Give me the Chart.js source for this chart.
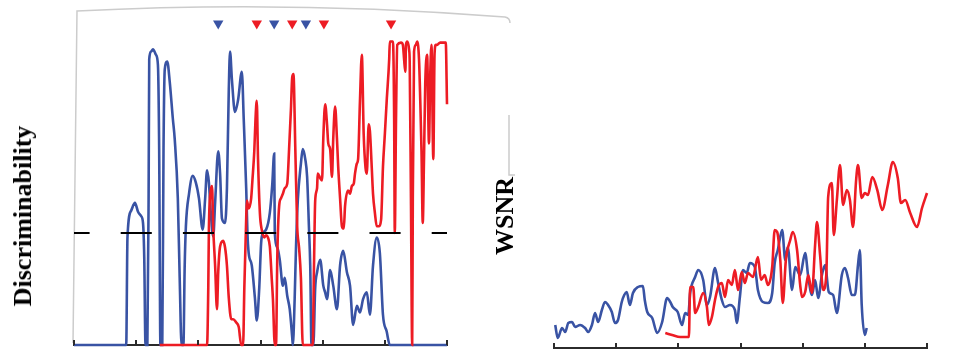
<!DOCTYPE html>
<html>
<head>
<meta charset="utf-8">
<script src="https://cdn.jsdelivr.net/npm/chart.js@4.4.1/dist/chart.umd.min.js"></script>
<style>
  html, body { margin: 0; padding: 0; background: #fff; }
  #wrap { position: relative; width: 979px; height: 351px; overflow: hidden; }
  .box { position: absolute; top: 0; height: 351px; }
  #leftBox { left: 0; width: 520px; }
  #rightBox { left: 530px; width: 449px; }
  .ylab {
    position: absolute;
    font-family: "Liberation Serif", "Times New Roman", serif;
    font-weight: bold;
    font-size: 26px;
    color: #000;
    white-space: nowrap;
    transform: translate(-50%, -50%) rotate(-90deg);
  }
</style>
</head>
<body>
<div id="wrap">
  <div class="box" id="leftBox"><canvas id="discChart"></canvas></div>
  <div class="box" id="rightBox"><canvas id="wsnrChart"></canvas></div>
  <div class="ylab" style="left:23px; top:216px;">Discriminability</div>
  <div class="ylab" style="left:505px; top:216px;">WSNR</div>
</div>
<script>
// left panel: discriminability over time (x 0..6), threshold = 1
const discBlue = [[0,0],[0.84,0],[0.86,0.96],[0.92,1.20],[0.98,1.27],[1.03,1.19],[1.08,1.15],[1.11,1.09],[1.13,0.78],[1.15,0],
  [1.18,0],[1.20,1.31],[1.21,2.55],[1.24,2.62],[1.27,2.64],[1.32,2.59],[1.35,2.50],[1.37,1.75],[1.39,0],[1.42,0],
  [1.44,1.75],[1.46,2.46],[1.50,2.53],[1.54,2.35],[1.59,2.02],[1.62,1.84],[1.67,1.31],[1.70,0.60],[1.73,0],[1.76,0],
  [1.78,0.69],[1.80,1.06],[1.85,1.35],[1.91,1.51],[1.96,1.45],[2.01,1.31],[2.07,1.03],[2.11,1.31],[2.14,1.56],[2.17,1.45],
  [2.20,1.18],[2.24,0.97],[2.27,1.27],[2.32,1.73],[2.35,1.53],[2.38,1.13],[2.43,1.09],[2.46,1.40],[2.49,2.28],[2.51,2.62],
  [2.54,2.37],[2.59,2.08],[2.64,2.19],[2.70,2.44],[2.73,2.02],[2.77,1.40],[2.79,1.00],[2.81,0.82],[2.86,0.71],[2.91,0.42],
  [2.94,0.22],[2.98,0.51],[3.01,0.91],[3.04,1.00],[3.09,1.03],[3.15,1.18],[3.19,1.44],[3.22,1.71],[3.23,1.00],[3.27,0.87],
  [3.31,0.76],[3.36,0.53],[3.39,0.60],[3.43,0.44],[3.47,0.32],[3.51,0.07],[3.52,0],[3.55,0.42],[3.57,0.85],[3.60,1.29],
  [3.65,1.62],[3.68,1.75],[3.72,1.66],[3.75,1.50],[3.78,1.04],[3.80,0.71],[3.82,0],[3.85,0],[3.88,0.51],[3.91,0.65],
  [3.96,0.76],[4.01,0.53],[4.04,0.47],[4.07,0.41],[4.12,0.67],[4.17,0.53],[4.23,0.32],[4.28,0.71],[4.33,0.84],[4.39,0.65],
  [4.44,0.53],[4.49,0.18],[4.55,0.35],[4.60,0.29],[4.65,0.41],[4.71,0.47],[4.76,0.27],[4.81,0.71],[4.87,0.96],[4.92,0.82],
  [4.97,0.27],[5.03,0.12],[5.08,0],[6.0,0]]

const discRed = [[1.38,0],[2.14,0],[2.16,0.51],[2.17,1.04],[2.20,1.38],[2.22,1.42],[2.24,1.04],[2.27,0.71],[2.30,0.32],[2.32,0.65],
  [2.35,0.88],[2.40,0.93],[2.43,0.87],[2.46,0.71],[2.49,0.42],[2.53,0.23],[2.56,0.23],[2.61,0.20],[2.65,0.16],[2.69,0],
  [2.72,0],[2.74,0.51],[2.77,1.13],[2.78,1.29],[2.81,1.22],[2.85,1.31],[2.87,1.47],[2.90,1.73],[2.92,2.02],[2.94,2.18],
  [2.96,1.66],[2.99,1.18],[3.02,1.03],[3.06,0.96],[3.09,0.98],[3.12,0.96],[3.15,0.88],[3.18,0.60],[3.20,0.41],[3.23,0],
  [3.25,0],[3.27,0.78],[3.30,1.24],[3.33,1.31],[3.36,1.35],[3.39,1.40],[3.43,1.44],[3.46,1.75],[3.49,2.11],[3.51,2.39],
  [3.53,2.42],[3.56,1.75],[3.59,1.06],[3.62,0.87],[3.65,0.60],[3.68,0],[3.84,0],[3.86,0.69],[3.88,1.29],[3.91,1.40],
  [3.92,1.53],[3.96,1.49],[3.99,1.47],[4.01,1.84],[4.04,2.15],[4.07,1.97],[4.09,1.80],[4.12,1.75],[4.15,1.50],[4.17,1.84],
  [4.20,2.13],[4.23,1.84],[4.25,1.59],[4.28,1.31],[4.31,1.06],[4.34,1.04],[4.36,1.24],[4.41,1.38],[4.44,1.35],[4.47,1.42],
  [4.50,1.44],[4.52,1.53],[4.55,1.62],[4.57,1.66],[4.60,2.18],[4.63,2.59],[4.66,1.88],[4.69,1.58],[4.71,1.53],[4.74,1.97],
  [4.76,1.91],[4.79,1.58],[4.81,1.35],[4.84,1.18],[4.87,1.06],[4.90,1.06],[4.94,1.12],[4.97,1.59],[5.00,1.88],[5.03,2.18],
  [5.07,2.55],[5.08,2.71],[5.13,2.71],[5.15,2.02],[5.16,1.00],[5.18,2.02],[5.20,2.68],[5.26,2.70],[5.29,2.68],[5.31,2.55],
  [5.33,2.44],[5.34,2.68],[5.36,2.71],[5.39,2.64],[5.40,2.53],[5.42,1.31],[5.44,0],[5.45,1.31],[5.47,2.62],[5.50,2.68],
  [5.52,2.71],[5.55,2.55],[5.57,2.18],[5.59,1.73],[5.61,1.09],[5.63,1.66],[5.65,2.33],[5.68,2.59],[5.71,1.80],[5.73,2.40],
  [5.75,2.68],[5.78,1.66],[5.80,2.60],[5.82,2.68],[5.84,2.68],[5.89,2.70],[5.98,2.70],[6.0,2.15]]

const threshold = 1
const markerLevel = 2.87
const blueMarkers = [2.32, 3.22, 3.73]
const redMarkers = [2.94, 3.51, 4.02, 5.10]

// right panel: WSNR over time
const wsnrBlue = [[0.02,2.3],[0.06,1.0],[0.13,2.0],[0.18,1.6],[0.23,2.5],[0.29,2.6],[0.34,2.1],[0.42,2.3],[0.50,2.0],[0.55,1.6],
  [0.61,2.3],[0.66,3.5],[0.71,2.6],[0.77,3.8],[0.82,4.6],[0.87,4.3],[0.93,3.6],[0.98,2.5],[1.03,2.8],[1.09,4.6],
  [1.13,5.3],[1.17,5.6],[1.22,4.3],[1.27,5.5],[1.35,6.1],[1.43,6.2],[1.46,4.8],[1.50,3.6],[1.58,3.0],[1.66,1.5],
  [1.74,2.6],[1.82,5.0],[1.87,4.6],[1.91,4.1],[1.99,3.6],[2.06,2.3],[2.11,3.5],[2.16,3.3],[2.19,5.5],[2.27,7.1],
  [2.32,7.8],[2.40,6.8],[2.46,4.3],[2.51,5.1],[2.59,8.0],[2.64,6.5],[2.70,4.8],[2.75,4.1],[2.83,4.3],[2.91,3.8],
  [2.94,2.5],[2.99,5.1],[3.04,7.8],[3.10,7.5],[3.15,8.5],[3.23,8.1],[3.28,5.8],[3.36,4.6],[3.44,4.5],[3.51,5.5],
  [3.55,8.5],[3.60,9.8],[3.67,11.8],[3.72,8.8],[3.76,10.1],[3.83,5.8],[3.88,8.1],[3.96,7.3],[4.04,9.5],[4.09,7.1],
  [4.15,5.3],[4.20,6.8],[4.25,5.0],[4.31,7.3],[4.36,8.3],[4.42,5.6],[4.49,5.3],[4.55,3.5],[4.63,7.3],[4.68,8.0],
  [4.73,7.0],[4.79,5.3],[4.84,5.3],[4.89,8.3],[4.92,9.8],[4.95,4.3],[5.00,1.3],[5.03,2.0]]

const wsnrRed = [[1.79,1.5],[1.90,1.3],[2.03,1.1],[2.17,1.1],[2.19,6.1],[2.24,6.1],[2.27,3.5],[2.32,4.1],[2.40,5.5],[2.46,4.1],
  [2.49,2.3],[2.54,3.1],[2.59,4.8],[2.64,6.1],[2.70,6.5],[2.75,5.1],[2.80,6.8],[2.86,6.3],[2.91,7.8],[2.96,5.8],
  [3.02,7.6],[3.07,6.5],[3.12,7.5],[3.20,7.1],[3.28,9.1],[3.33,6.8],[3.39,7.3],[3.44,6.3],[3.51,8.1],[3.55,11.8],
  [3.59,11.6],[3.64,8.8],[3.68,4.5],[3.73,8.8],[3.80,10.8],[3.84,11.6],[3.91,9.8],[3.96,6.3],[3.99,5.1],[4.04,5.6],
  [4.09,7.3],[4.15,5.5],[4.20,10.3],[4.23,12.6],[4.28,9.3],[4.33,5.8],[4.38,7.3],[4.41,15.1],[4.47,16.5],[4.50,11.3],
  [4.55,14.8],[4.60,18.3],[4.65,14.3],[4.71,15.8],[4.76,14.8],[4.81,12.1],[4.86,16.8],[4.89,18.3],[4.95,15.0],[5.00,15.5],
  [5.05,15.3],[5.12,17.1],[5.20,15.8],[5.28,13.8],[5.37,16.3],[5.45,18.6],[5.53,17.0],[5.58,14.5],[5.65,14.8],[5.73,13.5],
  [5.84,12.1],[5.92,14.0],[6.00,15.5]]

const BLUE = '#3953a4'
const RED = '#ed1c24'
const AXIS = '#2b2b2b'

const pts = arr => arr.map(([x, y]) => ({ x, y }))

// small tick marks pointing up from the x axis
const upTicks = {
  id: 'upTicks',
  afterDraw(chart) {
    const sx = chart.scales.x
    const b = chart.chartArea.bottom
    const ctx = chart.ctx
    ctx.save()
    ctx.strokeStyle = AXIS
    ctx.lineWidth = 2
    sx.ticks.forEach(t => {
      const px = Math.round(sx.getPixelForValue(t.value))
      ctx.beginPath()
      ctx.moveTo(px, b)
      ctx.lineTo(px, b - 5)
      ctx.stroke()
    })
    ctx.restore()
  }
}

// faint grey frame left over from the scanned figure
const scanFrame = {
  id: 'scanFrame',
  beforeDraw(chart) {
    const a = chart.chartArea
    const ctx = chart.ctx
    ctx.save()
    ctx.strokeStyle = '#cccccc'
    ctx.lineWidth = 1.5
    ctx.beginPath()
    ctx.moveTo(a.left - 1, a.bottom - 2)
    ctx.lineTo(a.left + 3, a.top + 2)
    ctx.quadraticCurveTo(a.left + 215, a.top - 9, a.right + 58, a.top + 8)
    ctx.quadraticCurveTo(a.right + 63, a.top + 9, a.right + 63, a.top + 14)
    ctx.stroke()
    ctx.beginPath()
    ctx.moveTo(a.right + 62, a.top + 106)
    ctx.lineTo(a.right + 62, a.top + 166)
    ctx.lineTo(a.right + 68, a.top + 166)
    ctx.stroke()
    ctx.restore()
  }
}

function lineSet(data, color, order) {
  return {
    data: pts(data),
    borderColor: color,
    borderWidth: 2.6,
    pointRadius: 0,
    cubicInterpolationMode: 'monotone',
    clip: false,
    order: order
  }
}

function markerSet(times, color) {
  return {
    data: times.map(t => ({ x: t, y: markerLevel })),
    showLine: false,
    pointStyle: 'triangle',
    rotation: 180,
    pointRadius: 6,
    pointBackgroundColor: color,
    pointBorderColor: color,
    pointBorderWidth: 0,
    order: 1
  }
}

function baseOptions(pad, yMax) {
  return {
    responsive: true,
    maintainAspectRatio: false,
    animation: false,
    layout: { padding: pad },
    plugins: { legend: { display: false }, tooltip: { enabled: false } },
    scales: {
      x: {
        type: 'linear', min: 0, max: 6,
        ticks: { display: false, stepSize: 1 },
        grid: { display: false },
        border: { display: true, color: AXIS, width: 2 },
        afterFit: s => { s.height = 3 }
      },
      y: { type: 'linear', min: 0, max: yMax, display: false }
    }
  }
}

new Chart(document.getElementById('discChart'), {
  type: 'line',
  data: {
    datasets: [
      {
        data: [{ x: 0, y: threshold }, { x: 6, y: threshold }],
        borderColor: '#000',
        borderWidth: 2,
        borderDash: [31.1, 31.1],
        borderDashOffset: 15.5,
        pointRadius: 0,
        order: 0
      },
      markerSet(blueMarkers, BLUE),
      markerSet(redMarkers, RED),
      lineSet(discRed, RED, 2),
      lineSet(discBlue, BLUE, 3)
    ]
  },
  options: baseOptions({ left: 74, right: 73, top: 9, bottom: 0 }, 3),
  plugins: [upTicks, scanFrame]
})

new Chart(document.getElementById('wsnrChart'), {
  type: 'line',
  data: {
    datasets: [
      lineSet(wsnrRed, RED, 0),
      lineSet(wsnrBlue, BLUE, 1)
    ]
  },
  options: baseOptions({ left: 24, right: 52, top: 8, bottom: 0 }, 34),
  plugins: [upTicks]
})
</script>
</body>
</html>
